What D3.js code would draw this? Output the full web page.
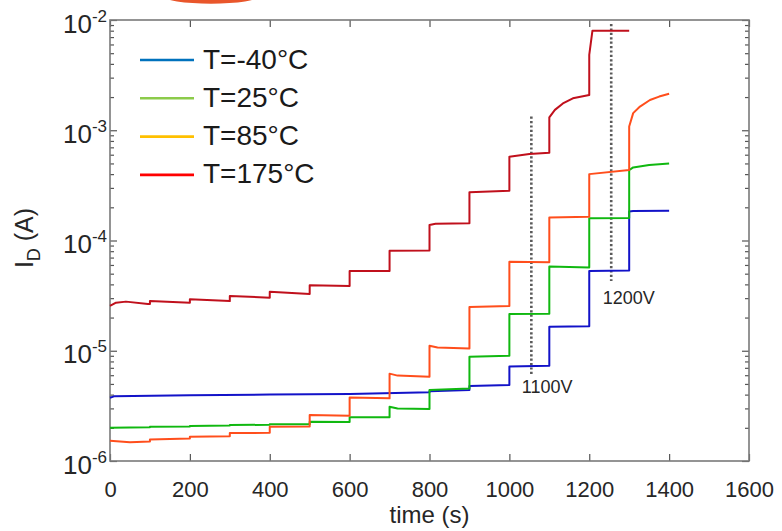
<!DOCTYPE html>
<html>
<head>
<meta charset="utf-8">
<script src="https://cdn.jsdelivr.net/npm/d3@7"></script>
<style>
	body	{ margin:0; background:#fff; }
	svg	{ display:block; font-family:"Liberation Sans", Arial, sans-serif; }
	.tick text	{ fill:#262626; }
</style>
</head>
<body>
<div id="chart"></div>
<script>
var	names		= ["T=-40°C", "T=25°C", "T=85°C", "T=175°C"],
	legendColors	= ["#0072BD", "#8CCB4A", "#FFC000", "#FF0000"],
	lineColors	= ["#1212C8", "#10B810", "#FF4E1C", "#C0101C"];

// [time (s), I_D (A)]
var	seriesM40	= [[0,3.75e-6],[10,3.86e-6],[200,3.95e-6],[400,4.0e-6],[600,4.05e-6],[800,4.2e-6],[800,4.3e-6],[900,4.4e-6],
		[900,4.8e-6],[1000,4.88e-6],[1000,7.2e-6],[1100,7.3e-6],[1100,1.65e-5],[1200,1.67e-5],[1200,5.3e-5],[1300,5.35e-5],
		[1300,1.83e-4],[1310,1.85e-4],[1400,1.86e-4]],
	series25	= [[0,2.0e-6],[100,2.02e-6],[100,2.04e-6],[200,2.06e-6],[200,2.08e-6],[300,2.1e-6],[300,2.12e-6],[400,2.13e-6],
		[400,2.15e-6],[500,2.16e-6],[500,2.27e-6],[600,2.26e-6],[600,2.5e-6],[700,2.49e-6],[700,3.1e-6],[720,3.0e-6],[800,2.97e-6],
		[800,4.4e-6],[900,4.55e-6],[900,8.8e-6],[1000,9.0e-6],[1000,2.15e-5],[1100,2.17e-5],[1100,5.8e-5],[1200,5.7e-5],
		[1200,1.59e-4],[1300,1.6e-4],[1300,4.35e-4],[1310,4.6e-4],[1350,4.85e-4],[1400,5.0e-4]],
	series85	= [[0,1.53e-6],[50,1.48e-6],[100,1.5e-6],[100,1.57e-6],[200,1.6e-6],[200,1.66e-6],[300,1.68e-6],[300,1.79e-6],
		[400,1.8e-6],[400,2.05e-6],[500,2.06e-6],[500,2.61e-6],[600,2.57e-6],[600,3.77e-6],[700,3.7e-6],[700,6.2e-6],[720,5.95e-6],
		[800,5.8e-6],[800,1.11e-5],[820,1.07e-5],[900,1.05e-5],[900,2.5e-5],[1000,2.55e-5],[1000,6.4e-5],[1100,6.35e-5],
		[1100,1.62e-4],[1200,1.64e-4],[1200,4.0e-4],[1300,4.35e-4],[1300,1.08e-3],[1310,1.43e-3],[1327,1.64e-3],[1352,1.88e-3],
		[1375,2.02e-3],[1400,2.14e-3]],
	series175	= [[0,2.55e-5],[15,2.73e-5],[40,2.79e-5],[95,2.66e-5],[100,2.66e-5],[100,2.82e-5],[200,2.73e-5],[200,2.93e-5],
		[300,2.82e-5],[300,3.14e-5],[400,3.03e-5],[400,3.43e-5],[500,3.27e-5],[500,3.93e-5],[600,3.87e-5],[600,5.28e-5],
		[700,5.28e-5],[700,8.09e-5],[800,8.1e-5],[800,1.38e-4],[815,1.42e-4],[900,1.43e-4],[900,2.74e-4],[1000,2.83e-4],
		[1000,5.75e-4],[1050,6.09e-4],[1100,6.26e-4],[1100,1.31e-3],[1114,1.53e-3],[1134,1.75e-3],[1159,1.95e-3],[1200,2.09e-3],
		[1200,4.82e-3],[1208,8.0e-3],[1300,8.0e-3]],
	series		= [seriesM40, series25, series85, series175];

var	xTicks		= [0, 200, 400, 600, 800, 1000, 1200, 1400, 1600],
	yTicks		= [-6, -5, -4, -3, -2],
	annT		= [1055, 1255],
	annTop		= [1.33e-3, 9.2e-3],
	annBottom	= [6.0e-6, 4.3e-5],
	annText		= ["1100V", "1200V"],
	annLabelT	= [1031, 1234],
	annLabelI	= [4.17e-6, 2.65e-5];

var	W = 782, H = 531,
	margin	= {top: 20, right: 33, bottom: 70, left: 110},
	x	= d3.scaleLinear().domain([0, 1600]).range([margin.left, W - margin.right]),
	y	= d3.scaleLog().domain([1e-6, 1e-2]).range([H - margin.bottom, margin.top]),
	line	= d3.line().x(function(d) { return x(d[0]); }).y(function(d) { return y(d[1]); }),
	minor	= [];
yTicks.slice(0, -1).forEach(function(e) {
	for (var k = 2; k < 10; k++) minor.push(k * Math.pow(10, e));
});

var svg = d3.select("#chart").append("svg").attr("width", W).attr("height", H);

svg.append("ellipse").attr("cx", 211).attr("cy", -4).attr("rx", 48).attr("ry", 7.7).attr("fill", "#E9562B");

function styleAxis(g) {
	g.select(".domain").remove();
	g.selectAll(".tick line").attr("stroke", "#555").attr("stroke-width", 1.2);
}
svg.append("g").attr("transform", "translate(0," + y.range()[0] + ")")
	.call(d3.axisBottom(x).tickValues(xTicks).tickSizeInner(-7).tickSizeOuter(0).tickPadding(20.5).tickFormat(d3.format("d")))
	.call(styleAxis)
	.selectAll("text").attr("font-size", 22).attr("font-family", "Liberation Sans, Arial, sans-serif");
svg.append("g").attr("transform", "translate(0," + y.range()[1] + ")")
	.call(d3.axisTop(x).tickValues(xTicks).tickSizeInner(-7).tickSizeOuter(0).tickFormat(""))
	.call(styleAxis);
[[d3.axisLeft, x.range()[0]], [d3.axisRight, x.range()[1]]].forEach(function(a) {
	svg.append("g").attr("transform", "translate(" + a[1] + ",0)")
		.call(a[0](y).tickValues(yTicks.map(function(e) { return Math.pow(10, e); })).tickSizeInner(-7).tickSizeOuter(0).tickFormat(""))
		.call(styleAxis);
	svg.append("g").attr("transform", "translate(" + a[1] + ",0)")
		.call(a[0](y).tickValues(minor).tickSizeInner(-4).tickSizeOuter(0).tickFormat(""))
		.call(styleAxis);
});
svg.append("rect").attr("x", x.range()[0]).attr("y", y.range()[1])
	.attr("width", x.range()[1] - x.range()[0]).attr("height", y.range()[0] - y.range()[1])
	.attr("fill", "none").attr("stroke", "#7a7a7a").attr("stroke-width", 1.6);

var yl = svg.append("g").selectAll("text").data(yTicks).enter().append("text")
	.attr("x", x.range()[0] - 3).attr("y", function(d) { return y(Math.pow(10, d)) + 12.5; })
	.attr("text-anchor", "end").attr("fill", "#262626").attr("font-size", 26);
yl.append("tspan").text("10");
yl.append("tspan").attr("dy", -11).attr("font-size", 17).text(function(d) { return "-" + Math.abs(d); });

svg.append("text").attr("x", (x.range()[0] + x.range()[1]) / 2).attr("y", 523)
	.attr("text-anchor", "middle").attr("fill", "#262626").attr("font-size", 24).text("time (s)");
var ylab = svg.append("text").attr("transform", "translate(33,238) rotate(-90)")
	.attr("text-anchor", "middle").attr("fill", "#262626").attr("font-size", 25);
ylab.append("tspan").text("I");
ylab.append("tspan").attr("dy", 7).attr("font-size", 18).text("D");
ylab.append("tspan").attr("dy", -7).text(" (A)");

svg.append("g").selectAll("line").data(annT).enter().append("line")
	.attr("x1", function(d) { return x(d); }).attr("x2", function(d) { return x(d); })
	.attr("y1", function(d, i) { return y(annTop[i]); }).attr("y2", function(d, i) { return y(annBottom[i]); })
	.attr("stroke", "#5a5a5a").attr("stroke-width", 2.6).attr("stroke-dasharray", "2.2,2.2");
svg.append("g").selectAll("text").data(annText).enter().append("text")
	.attr("x", function(d, i) { return x(annLabelT[i]); }).attr("y", function(d, i) { return y(annLabelI[i]); })
	.attr("fill", "#262626").attr("font-size", 18).text(function(d) { return d; });

svg.append("g").selectAll("path").data(series).enter().append("path")
	.attr("d", line).attr("fill", "none")
	.attr("stroke", function(d, i) { return lineColors[i]; })
	.attr("stroke-width", 2).attr("stroke-linejoin", "round");

var lg = svg.append("g").selectAll("g").data(names).enter().append("g")
	.attr("transform", function(d, i) { return "translate(140," + (60 + i * 38.3) + ")"; });
lg.append("line").attr("x1", 0).attr("x2", 54).attr("stroke-width", 2.6)
	.attr("stroke", function(d, i) { return legendColors[i]; });
lg.append("text").attr("x", 63).attr("y", 8.5).attr("fill", "#1a1a1a").attr("font-size", 28)
	.text(function(d) { return d; });
</script>
</body>
</html>
